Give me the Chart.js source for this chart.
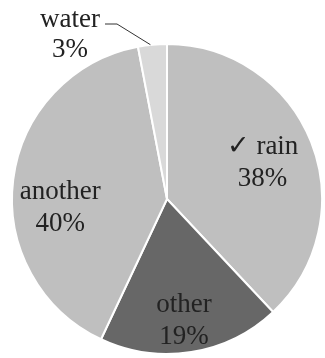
<!DOCTYPE html>
<html>
<head>
<meta charset="utf-8">
<script src="https://cdn.jsdelivr.net/npm/chart.js@4/dist/chart.umd.min.js"></script>
<style>
  body { margin: 0; background: #fff; }
  canvas { display: block; }
</style>
</head>
<body>
<canvas id="chartjs-0" width="325" height="358"></canvas>
<script>
// slice names and shares (percent)
const categories = ["rain", "other", "another", "water"];
const shares = [38, 19, 40, 3];
const labelPrefix = ["\u2713 ", "", "", ""];

const sliceColors = ["#bfbfbf", "#676767", "#bfbfbf", "#d9d9d9"];

// where each label sits: angle from 12 o'clock (deg, clockwise), radius factor
const labelAngle = [69, 172, 266, null];
const labelRadius = [0.66, 0.79, 0.69, null];

const FONT = "27px \"Liberation Serif\", \"DejaVu Serif\", serif";

let sliceLabels = {
    id: "sliceLabels",
    afterDatasetsDraw(chart) {
        let ctx = chart.ctx;
        let arcs = chart.getDatasetMeta(0).data;
        ctx.save();
        ctx.font = FONT;
        ctx.fillStyle = "#222";
        ctx.textAlign = "center";
        ctx.textBaseline = "middle";
        for (let i = 0; i < arcs.length; i++) {
            let arc = arcs[i];
            let p = arc.getProps(["x", "y", "outerRadius", "startAngle", "endAngle"], true);
            let line1 = labelPrefix[i] + categories[i];
            let line2 = shares[i] + "%";
            if (labelAngle[i] === null) {
                // small slice - label outside with a leader line
                let mid = (p.startAngle + p.endAngle) / 2;
                let ex = p.x + Math.cos(mid) * p.outerRadius;
                let ey = p.y + Math.sin(mid) * p.outerRadius;
                let lx = 70, ly = 35;
                ctx.strokeStyle = "#333";
                ctx.lineWidth = 1;
                ctx.beginPath();
                ctx.moveTo(ex - 2, ey);
                ctx.lineTo(lx + 47, ly - 11);
                ctx.lineTo(lx + 35, ly - 11);
                ctx.stroke();
                ctx.fillText(line1, lx, ly - 15);
                ctx.fillText(line2, lx, ly + 15);
                continue;
            }
            let a = (labelAngle[i] - 90) * Math.PI / 180;
            let r = p.outerRadius * labelRadius[i];
            let cx = p.x + Math.cos(a) * r;
            let cy = p.y + Math.sin(a) * r;
            ctx.fillText(line1, cx, cy - 15);
            ctx.fillText(line2, cx, cy + 17);
        }
        ctx.restore();
    }
};

function drawChart() {
    let ctx0 = document.getElementById("chartjs-0");
    let myChart0 = new Chart(ctx0, {
        type: "pie",
        data: {
            labels: categories,
            datasets: [{
                data: shares,
                backgroundColor: sliceColors,
                borderColor: "#ffffff",
                borderWidth: 2
            }]
        },
        options: {
            responsive: false,
            animation: false,
            layout: { padding: { left: 10, right: 1, top: 43, bottom: 3 } },
            plugins: {
                legend: { display: false },
                tooltip: { enabled: false }
            }
        },
        plugins: [sliceLabels]
    });
}

// make sure the serif face is ready before drawing on the canvas
document.fonts.load(FONT, "water 38%").then(drawChart, drawChart);
</script>
</body>
</html>
